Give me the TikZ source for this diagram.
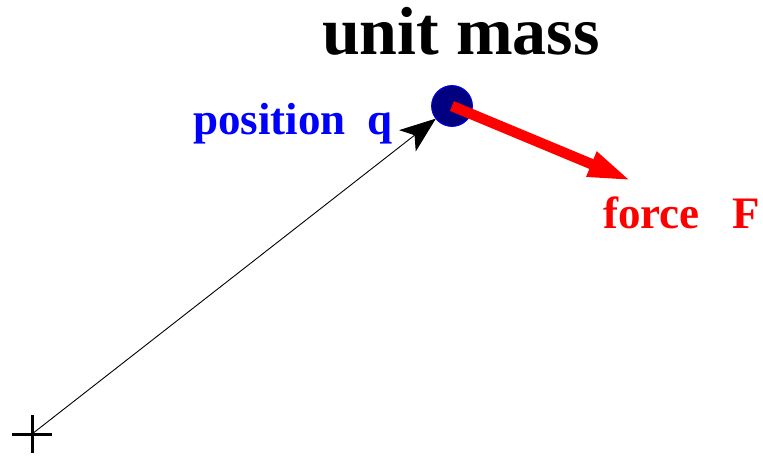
\documentclass[tikz,border=0pt]{standalone}
\usepackage{fontspec}
\setmainfont{Liberation Serif}
\usepackage{xcolor}
\usepackage{tikz}
\usetikzlibrary{arrows.meta,positioning,calc}
\definecolor{massnavy}{HTML}{000080}
\definecolor{posblue}{HTML}{0000FF}
\definecolor{forcered}{HTML}{FF0000}
\tikzset{
    every picture/.style={line join=round},
    massnode/.style={circle,draw=posblue,fill=massnavy,line width=0.8pt,
      minimum size=41pt,inner sep=0pt,outer sep=0pt},
    originmark/.style={draw=black,line width=3pt,line cap=butt},
    posarrow/.style={-{Stealth[length=36pt,width=27pt,inset=9pt]},draw=black,
      line width=0.9pt},
    forcearrow/.style={-{Triangle[length=44pt,width=24pt]},draw=forcered,
      line width=10.5pt,line cap=butt},
    biglabel/.style={inner sep=0pt,font=\fontsize{68}{70}\selectfont\bfseries},
    veclabel/.style={inner sep=0pt,font=\fontsize{45}{48}\selectfont\bfseries}
}

\begin{document}
\begin{tikzpicture}[x=1pt,y=1pt]
  \useasboundingbox (0,0) rectangle (763,458);
  % origin cross and the unit mass
  \coordinate (origin) at (32,24);
  \draw[originmark] (origin) +(-20,0) -- +(20,0) (origin) +(0,19) -- +(0,-19);
  \node[massnode] (mass) at (452,352) {};
  \coordinate (forcetip) at (632,277);
  % position and force vectors
  \draw[posarrow] (origin) -- (mass);
  \draw[forcearrow] (mass.center) -- (forcetip);
  % labels
  \node[biglabel,anchor=base] (title) at (461,403) {unit mass};
  \node[veclabel,text=posblue,anchor=base west] (poslabel) at (193,323) {position\hspace{22pt}q};
  \node[veclabel,text=forcered,anchor=base west] (forcelabel) at (603,229) {force\hspace{33pt}F};
\end{tikzpicture}
\end{document}
